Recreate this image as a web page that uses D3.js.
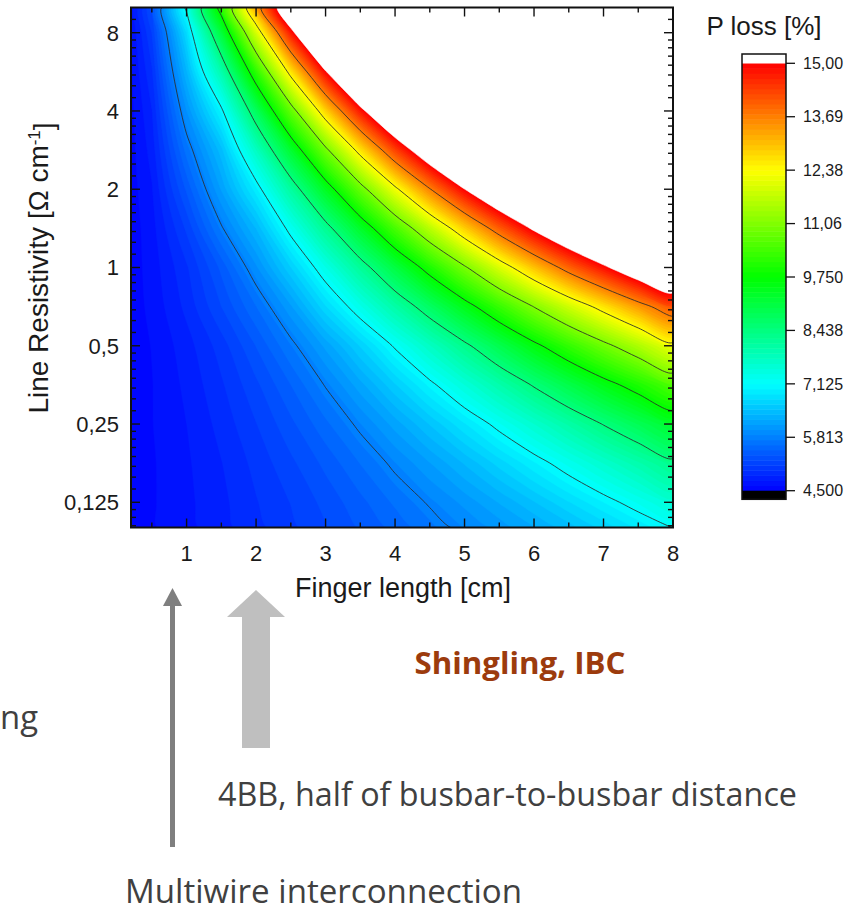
<!DOCTYPE html>
<html>
<head>
<meta charset="utf-8">
<script src="https://cdn.jsdelivr.net/npm/d3@7"></script>
<style>
    body { margin: 0; background: #fff; }
    svg { display: block; }
    .chart-text { font-family: "Liberation Sans", Arial, sans-serif; fill: #1a1a1a; }
    .note { font-family: "Open Sans", "Noto Sans", sans-serif; fill: #404040; }
</style>
</head>
<body>
<div id="chart"></div>
<script>

// grid of the map: finger length (cm) along x, line resistivity (Ohm/cm) along y
const fingerLength = [0.2, 0.5, 1, 1.5, 2, 2.5, 3, 3.5, 4, 4.5, 5, 5.5, 6, 6.5, 7, 7.5, 8];
const lineResistivity = [0.1, 0.125, 0.177, 0.25, 0.354, 0.5, 0.707, 1, 1.414, 2, 2.828, 4, 5.657, 8, 10];

// P loss [%], one row per resistivity (bottom row first)
const powerLoss = [
    [4.55, 4.61, 4.71, 4.83, 4.96, 5.09, 5.24, 5.39, 5.54, 5.71, 5.88, 6.05, 6.24, 6.44, 6.66, 6.89, 7.13],
    [4.55, 4.61, 4.72, 4.84, 4.99, 5.13, 5.29, 5.46, 5.65, 5.84, 6.04, 6.26, 6.49, 6.74, 7.00, 7.27, 7.55],
    [4.55, 4.61, 4.73, 4.87, 5.04, 5.22, 5.41, 5.63, 5.87, 6.12, 6.39, 6.68, 6.98, 7.30, 7.63, 7.97, 8.32],
    [4.55, 4.62, 4.75, 4.92, 5.12, 5.34, 5.59, 5.87, 6.18, 6.51, 6.86, 7.23, 7.62, 8.03, 8.46, 8.88, 9.30],
    [4.55, 4.62, 4.78, 4.98, 5.22, 5.50, 5.83, 6.20, 6.61, 7.04, 7.50, 7.98, 8.49, 9.00, 9.52, 10.02, 10.55],
    [4.56, 4.63, 4.82, 5.06, 5.38, 5.74, 6.16, 6.64, 7.17, 7.73, 8.32, 8.95, 9.60, 10.24, 10.88, 11.52, 12.20],
    [4.56, 4.66, 4.91, 5.25, 5.62, 6.10, 6.73, 7.34, 8.02, 8.73, 9.49, 10.28, 11.08, 11.86, 12.62, 13.40, 14.15],
    [4.56, 4.68, 4.98, 5.41, 5.97, 6.62, 7.36, 8.18, 9.07, 10.01, 10.98, 11.99, 12.99, 13.97, 14.85, 15.75, 16.55],
    [4.56, 4.70, 5.15, 5.78, 6.38, 7.25, 8.23, 9.31, 10.47, 11.65, 12.85, 14.03, 15.13, 16.13, 17.08, 18.10, 19.19],
    [4.57, 4.74, 5.40, 6.14, 6.95, 8.10, 9.40, 10.79, 12.23, 13.65, 14.99, 16.18, 17.33, 18.58, 19.92, 20, 20],
    [4.58, 4.80, 5.68, 6.45, 7.74, 9.25, 10.91, 12.63, 14.31, 15.81, 17.17, 18.65, 20, 20, 20, 20, 20],
    [4.59, 4.87, 6.00, 7.04, 8.79, 10.74, 12.80, 14.76, 16.46, 18.17, 20, 20, 20, 20, 20, 20, 20],
    [4.61, 4.98, 6.36, 7.95, 10.19, 12.61, 14.94, 16.93, 19.08, 20, 20, 20, 20, 20, 20, 20, 20],
    [4.63, 5.13, 6.75, 9.12, 11.95, 14.75, 17.14, 19.77, 20, 20, 20, 20, 20, 20, 20, 20, 20],
    [4.66, 5.26, 7.21, 10.05, 13.26, 16.12, 18.92, 20, 20, 20, 20, 20, 20, 20, 20, 20, 20]
];

// iso lines and colour scale
const contourLevels = [5.8125, 7.125, 8.4375, 9.75, 11.0625, 12.375, 13.6875];
const colorbarTicks = [4.5, 5.8125, 7.125, 8.4375, 9.75, 11.0625, 12.375, 13.6875, 15];
const colorbarLabels = ["4,500", "5,813", "7,125", "8,438", "9,750", "11,06", "12,38", "13,69", "15,00"];
const paletteStops = [4.5, 7.125, 9.75, 12.375, 15];
const paletteColors = ["#0000ff", "#00ffff", "#00ff00", "#ffff00", "#ff0000"];

// axes
const xTicks = [1, 2, 3, 4, 5, 6, 7, 8];
const xMinorTicks = [0.5, 1.5, 2.5, 3.5, 4.5, 5.5, 6.5, 7.5];
const yTicks = [0.125, 0.25, 0.5, 1, 2, 4, 8];
const yTickLabels = ["0,125", "0,25", "0,5", "1", "2", "4", "8"];

/* * * * * * * * * * * * * *
 *     class ContourVis     *
 * * * * * * * * * * * * * */

class ContourVis {

    constructor(parentElement){
        this.parentElement = parentElement;
        this.initVis();
    }

    initVis(){
        let vis = this;

        vis.plot = {left: 131, right: 673, top: 7.5, bottom: 527.5};

        vis.svg = d3.select("#" + vis.parentElement).append("svg")
            .attr("width", 857)
            .attr("height", 914);

        vis.x = d3.scaleLinear().domain([0.2, 8]).range([vis.plot.left, vis.plot.right]);
        vis.y = d3.scaleLog().base(2).domain([0.1, 10]).range([vis.plot.bottom, vis.plot.top]);
        vis.color = d3.scaleLinear().domain(paletteStops).range(paletteColors);

        vis.svg.append("clipPath").attr("id", "plot-clip")
            .append("rect")
            .attr("x", vis.plot.left).attr("y", vis.plot.top)
            .attr("width", vis.plot.right - vis.plot.left)
            .attr("height", vis.plot.bottom - vis.plot.top);

        vis.mapGroup = vis.svg.append("g").attr("clip-path", "url(#plot-clip)");
        vis.lineGroup = vis.svg.append("g").attr("clip-path", "url(#plot-clip)");
        vis.axisGroup = vis.svg.append("g");
        vis.barGroup = vis.svg.append("g");
        vis.noteGroup = vis.svg.append("g");

        vis.curve = d3.line().curve(d3.curveCatmullRom.alpha(0.5));
        vis.closedCurve = d3.line().curve(d3.curveCatmullRomClosed.alpha(0.5));

        vis.wrangleData();
    }

    wrangleData(){
        let vis = this;

        vis.nx = fingerLength.length;
        vis.ny = lineResistivity.length;
        vis.values = powerLoss.flat();

        // grid index -> pixel (grid points sit at their own axis positions)
        vis.xIdx = d3.scaleLinear().domain(d3.range(vis.nx)).range(fingerLength.map(d => vis.x(d))).clamp(true);
        vis.yIdx = d3.scaleLinear().domain(d3.range(vis.ny)).range(lineResistivity.map(d => vis.y(d))).clamp(true);
        vis.proj = p => [vis.xIdx(p[0] - 0.5), vis.yIdx(p[1] - 0.5)];
        vis.onEdge = p => p[0] <= 0 || p[0] >= vis.nx || p[1] <= 0 || p[1] >= vis.ny;

        vis.bandSteps = d3.range(4.5, 15, 0.125);

        vis.updateVis();
    }

    // closed ring -> svg path, curved inside the map, straight along the border
    ringPath(ring){
        let vis = this;
        let pts = ring.slice(0, -1);
        let k = pts.findIndex(vis.onEdge);
        if (k < 0) return vis.closedCurve(pts.map(vis.proj)) + "Z";

        pts = pts.slice(k).concat(pts.slice(0, k));
        pts.push(pts[0]);
        let d = "M" + vis.proj(pts[0]).join(",");
        let i = 0;
        while (i < pts.length - 1) {
            if (vis.onEdge(pts[i + 1])) {
                d += "L" + vis.proj(pts[i + 1]).join(",");
                i++;
            } else {
                let j = i + 1;
                while (!vis.onEdge(pts[j])) j++;
                d += vis.curve(pts.slice(i, j + 1).map(vis.proj)).replace(/^M/, "L");
                i = j;
            }
        }
        return d + "Z";
    }

    // open pieces of a ring that do not run along the border
    splitRing(ring){
        let vis = this;
        let segs = [], cur = [];
        for (let i = 0; i < ring.length - 1; i++){
            let a = ring[i], b = ring[i + 1];
            if (vis.onEdge(a) && vis.onEdge(b)) {
                if (cur.length) { segs.push(cur); cur = []; }
                continue;
            }
            if (!cur.length) cur.push(a);
            cur.push(b);
        }
        if (cur.length) {
            if (segs.length && !vis.onEdge(ring[0])) segs[0] = cur.concat(segs[0].slice(1));
            else segs.push(cur);
        }
        return segs;
    }

    updateVis(){
        let vis = this;

        let contours = d3.contours().size([vis.nx, vis.ny]);
        let shape = d => d.coordinates.map(poly => poly.map(r => vis.ringPath(r)).join("")).join("");

        // filled bands
        vis.mapGroup.selectAll("path.band")
            .data(contours.thresholds(vis.bandSteps)(vis.values))
            .enter().append("path")
            .attr("class", "band")
            .attr("d", shape)
            .attr("fill", d => vis.color(d.value + 0.0625))
            .attr("stroke", d => vis.color(d.value + 0.0625))
            .attr("stroke-width", 0.4);

        // above 15 % the map is left white
        vis.mapGroup.selectAll("path.over")
            .data(contours.thresholds([15])(vis.values))
            .enter().append("path")
            .attr("class", "over")
            .attr("d", shape)
            .attr("fill", "#fff")
            .attr("stroke", "#fff")
            .attr("stroke-width", 0.6);

        // iso lines
        let segments = [];
        contours.thresholds(contourLevels)(vis.values).forEach(c => {
            c.coordinates.forEach(poly => poly.forEach(ring => {
                vis.splitRing(ring).forEach(s => segments.push(s.map(vis.proj)));
            }));
        });

        vis.lineGroup.selectAll("path")
            .data(segments)
            .enter().append("path")
            .attr("d", vis.curve)
            .attr("fill", "none")
            .attr("stroke", "#2b2b2b")
            .attr("stroke-opacity", 0.85)
            .attr("stroke-width", 1);

        vis.drawAxes();
        vis.drawColorbar();
        vis.drawNotes();
    }

    drawAxes(){
        let vis = this;
        let g = vis.axisGroup;
        let p = vis.plot;
        let major = 9, minor = 5;

        let yMinor = [];
        [0.0625, 0.125, 0.25, 0.5, 1, 2, 4, 8].forEach(a => {
            d3.range(1, 8).forEach(k => yMinor.push(a * (1 + k / 8)));
        });
        yMinor = yMinor.filter(v => v > 0.1 && v < 10);

        let xt = xTicks.map(v => ({v, len: major})).concat(xMinorTicks.map(v => ({v, len: minor})));
        let yt = yTicks.map(v => ({v, len: major})).concat(yMinor.map(v => ({v, len: minor})));

        // ticks point inwards on all four sides
        g.selectAll(".xb").data(xt).enter().append("line")
            .attr("x1", d => vis.x(d.v)).attr("x2", d => vis.x(d.v))
            .attr("y1", p.bottom).attr("y2", d => p.bottom - d.len);
        g.selectAll(".xt").data(xt).enter().append("line")
            .attr("x1", d => vis.x(d.v)).attr("x2", d => vis.x(d.v))
            .attr("y1", p.top).attr("y2", d => p.top + d.len);
        g.selectAll(".yl").data(yt).enter().append("line")
            .attr("y1", d => vis.y(d.v)).attr("y2", d => vis.y(d.v))
            .attr("x1", p.left).attr("x2", d => p.left + d.len);
        g.selectAll(".yr").data(yt).enter().append("line")
            .attr("y1", d => vis.y(d.v)).attr("y2", d => vis.y(d.v))
            .attr("x1", p.right).attr("x2", d => p.right - d.len);
        g.selectAll("line").attr("stroke", "#111").attr("stroke-width", 1.4);

        g.append("rect")
            .attr("x", p.left).attr("y", p.top)
            .attr("width", p.right - p.left).attr("height", p.bottom - p.top)
            .attr("fill", "none").attr("stroke", "#111").attr("stroke-width", 2);

        g.selectAll(".xlab").data(xTicks).enter().append("text")
            .attr("class", "chart-text")
            .attr("x", d => vis.x(d)).attr("y", 561)
            .attr("text-anchor", "middle")
            .style("font-size", "22px")
            .text(d => d);

        g.selectAll(".ylab").data(yTicks).enter().append("text")
            .attr("class", "chart-text")
            .attr("x", 119).attr("y", d => vis.y(d))
            .attr("dy", "0.36em")
            .attr("text-anchor", "end")
            .style("font-size", "22px")
            .text((d, i) => yTickLabels[i]);

        g.append("text")
            .attr("class", "chart-text")
            .attr("x", 403).attr("y", 597)
            .attr("text-anchor", "middle")
            .style("font-size", "27px")
            .text("Finger length [cm]");

        let yl = g.append("text")
            .attr("class", "chart-text")
            .attr("transform", "translate(48,268) rotate(-90)")
            .attr("text-anchor", "middle")
            .style("font-size", "28px");
        yl.append("tspan").text("Line Resistivity [\u03A9 cm");
        yl.append("tspan").attr("dy", "-0.45em").style("font-size", "17px").text("-1");
        yl.append("tspan").attr("dy", "0.45em").text("]");
    }

    drawColorbar(){
        let vis = this;
        let g = vis.barGroup;
        let left = 742, right = 786;
        let cb = d3.scaleLinear().domain([4.5, 15]).range([490.7, 63.3]);

        g.selectAll("rect.step").data(vis.bandSteps).enter().append("rect")
            .attr("class", "step")
            .attr("x", left).attr("width", right - left)
            .attr("y", d => cb(d + 0.125))
            .attr("height", d => cb(d) - cb(d + 0.125) + 0.5)
            .attr("fill", d => vis.color(d + 0.0625));

        g.append("rect").attr("x", left).attr("width", right - left)
            .attr("y", 54).attr("height", cb(15) - 54).attr("fill", "#fff");
        g.append("rect").attr("x", left).attr("width", right - left)
            .attr("y", cb(4.5)).attr("height", 499.3 - cb(4.5)).attr("fill", "#000");

        g.append("rect").attr("x", left).attr("y", 54)
            .attr("width", right - left).attr("height", 499.3 - 54)
            .attr("fill", "none").attr("stroke", "#111").attr("stroke-width", 1.5);

        g.selectAll("line.cbt").data(colorbarTicks).enter().append("line")
            .attr("class", "cbt")
            .attr("x1", right).attr("x2", right + 9)
            .attr("y1", d => cb(d)).attr("y2", d => cb(d))
            .attr("stroke", "#111").attr("stroke-width", 1.3);

        g.selectAll("text.cbl").data(colorbarTicks).enter().append("text")
            .attr("class", "chart-text cbl")
            .attr("x", 803).attr("y", d => cb(d))
            .attr("dy", "0.36em")
            .style("font-size", "16px")
            .text((d, i) => colorbarLabels[i]);

        g.append("text")
            .attr("class", "chart-text")
            .attr("x", 764).attr("y", 35)
            .attr("text-anchor", "middle")
            .style("font-size", "26px")
            .text("P loss [%]");
    }

    drawNotes(){
        let vis = this;
        let g = vis.noteGroup;

        // thin arrow: multiwire
        g.append("rect").attr("x", 170).attr("y", 604).attr("width", 5).attr("height", 243).attr("fill", "#7f7f7f");
        g.append("polygon").attr("points", "163,606 172.5,588 182,606").attr("fill", "#7f7f7f");

        // thick arrow: 4BB
        g.append("rect").attr("x", 242).attr("y", 616).attr("width", 28).attr("height", 132).attr("fill", "#bfbfbf");
        g.append("polygon").attr("points", "227,617 256,590 285,617").attr("fill", "#bfbfbf");

        g.append("text").attr("class", "note")
            .attr("x", 520).attr("y", 674)
            .attr("text-anchor", "middle")
            .style("font-size", "31px").style("font-weight", "bold")
            .style("fill", "#9c3b0d")
            .attr("textLength", 211).attr("lengthAdjust", "spacingAndGlyphs")
            .text("Shingling, IBC");

        g.append("text").attr("class", "note")
            .attr("x", 38).attr("y", 729)
            .attr("text-anchor", "end")
            .style("font-size", "32px")
            .attr("textLength", 38).attr("lengthAdjust", "spacingAndGlyphs")
            .text("ng");

        g.append("text").attr("class", "note")
            .attr("x", 218).attr("y", 806)
            .style("font-size", "32px")
            .attr("textLength", 579).attr("lengthAdjust", "spacingAndGlyphs")
            .text("4BB, half of busbar-to-busbar distance");

        g.append("text").attr("class", "note")
            .attr("x", 125).attr("y", 903)
            .style("font-size", "32px")
            .attr("textLength", 397).attr("lengthAdjust", "spacingAndGlyphs")
            .text("Multiwire interconnection");
    }
}

new ContourVis("chart");

</script>
</body>
</html>
